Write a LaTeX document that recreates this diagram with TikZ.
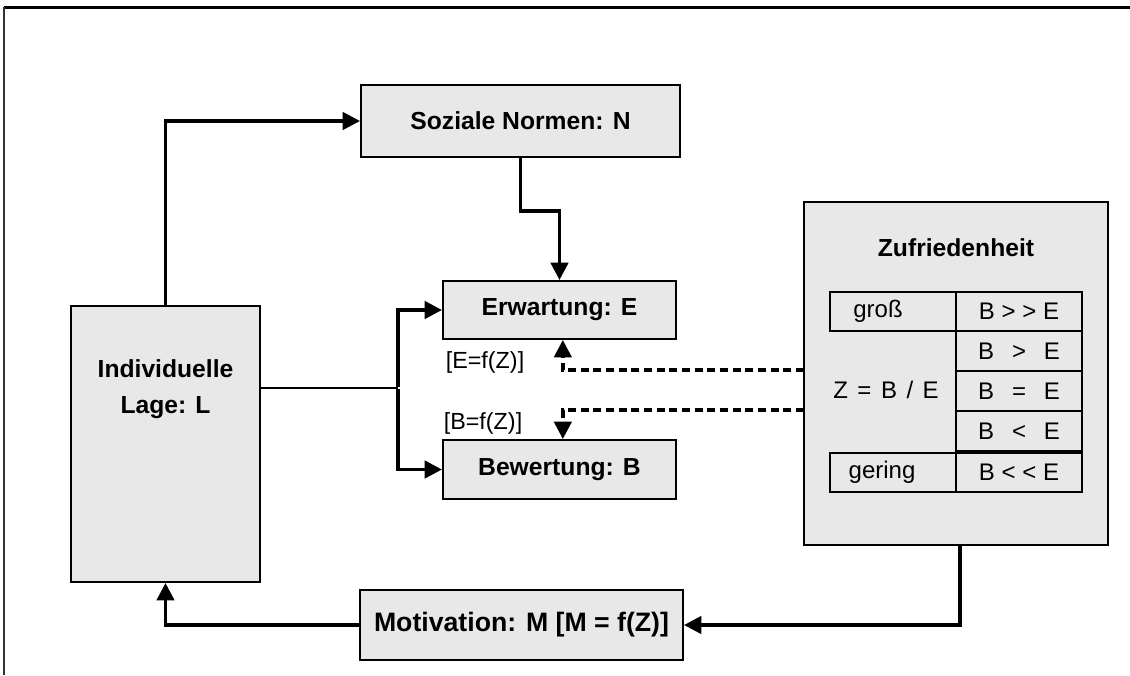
\documentclass[tikz,border=0pt]{standalone}
\usepackage{fontspec}
\setmainfont{Liberation Sans}
\usetikzlibrary{arrows.meta, shadows}

\begin{document}
\begin{tikzpicture}[x=0.75pt, y=-0.75pt,
    size/.style 2 args={minimum width=#1*0.75pt, minimum height=#2*0.75pt},
    box/.style={draw, line width=1.5pt, fill=black!9, inner sep=0pt,
      font=\fontsize{18.5}{23}\selectfont\bfseries, align=center,
      drop shadow={shadow xshift=1pt, shadow yshift=-1pt, fill=black!45, opacity=1}},
    cell/.style={draw, line width=1.6pt, inner sep=0pt, font=\fontsize{18}{21}\selectfont},
    note/.style={font=\fontsize{17.5}{21}\selectfont, inner sep=1pt},
    conn/.style={line width=2.5pt, -{Triangle[length=13pt, width=13pt]}},
    dconn/.style={conn, dash pattern=on 6pt off 3.5pt}]

  \useasboundingbox (0,0) rectangle (1130,675);

  % frame
  \draw [line width=2.25pt] (4,7) -- (1130,7);
  \draw [line width=1.5pt, black!80] (4,7) -- (4,675);

  % boxes
  \node [box, size={319}{72}] (normen) at (520.5,121) {Soziale Normen: N};
  \node [box, size={233}{58}] (erw) at (559.5,310) {Erwartung: E};
  \node [box, size={233}{59}] (bew) at (559.5,469.5) {Bewertung: B};
  \node [box, size={189}{276}] (lage) at (165.5,444) {};
  \node [font=\fontsize{18.5}{27}\selectfont\bfseries, align=center] (lagetxt) at (165.5,389) {Individuelle\\Lage: L};
  \node [box, size={323}{70}, font=\fontsize{20}{24}\selectfont\bfseries] (motiv) at (521.5,625) {Motivation: M [M = f(Z)]};
  \node [box, size={304}{343}] (zuf) at (956,373.5) {};
  \node [font=\fontsize{18.5}{23}\selectfont\bfseries] (zuftitel) at (956,248) {Zufriedenheit};

  % table
  \node [cell, size={126}{39}] (gross) at (893,311.5) {};
  \node [cell, draw=none] at (878,311) {groß};
  \node [cell, size={126}{39}] (bgg) at (1019,311.5) {B > > E};
  \foreach \rel/\yc/\name in {>/351/bg, =/391/bq, </431/bk}
  {
    \node [cell, size={126}{40}] (\name) at (1019,\yc) {\makebox[61.5pt][s]{B\hfill\rel\hfill E}};
  }
  \node [cell, draw=none] (zbe) at (886,390) {\makebox[79pt][s]{Z = B / E}};
  \node [cell, size={126}{39}] (gering) at (893,472.5) {};
  \node [cell, draw=none] at (882,472) {gering};
  \node [cell, size={126}{39}] (bkk) at (1019,472.5) {B < < E};

  % connectors
  \coordinate (split) at (398,388);
  \coordinate (ze) at (804,370);
  \coordinate (zb) at (804,410);

  \draw [conn] (lage.north) |- (normen.west);
  \draw [conn] (normen.south) -- ++(0,53) -| (erw.north);
  \draw [line width=1.5pt] (lage.east |- split) -- (split);
  \draw [conn] ([yshift=1pt]split) |- (erw.west);
  \draw [conn] ([yshift=-1pt]split) |- (bew.west);

  \draw [dconn] (ze) -| ([xshift=2.5pt]erw.south);
  \draw [dconn] (zb) -| ([xshift=2.5pt]bew.north);
  \node [note] (fe) at (485,362) {[E=f(Z)]};
  \node [note] (fb) at (483,423) {[B=f(Z)]};

  \draw [conn] ([xshift=3pt]zuf.south) |- (motiv.east);
  \draw [conn] (motiv.west) -| (lage.south);
\end{tikzpicture}
\end{document}
